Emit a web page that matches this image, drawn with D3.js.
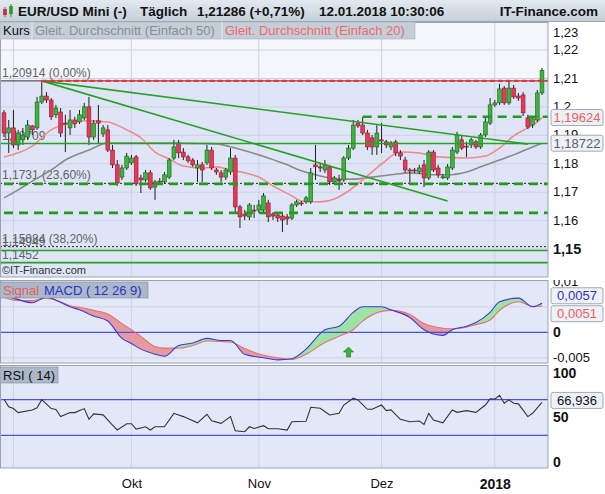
<!DOCTYPE html>
<html><head><meta charset="utf-8">
<script src="https://cdn.jsdelivr.net/npm/d3@7"></script>
<style>body{margin:0;background:#fff}svg{display:block;font-family:"Liberation Sans",Arial,sans-serif}</style>
</head><body><svg id="c" width="605" height="494"></svg>
<script>
// ---------- DATA ----------
const openV = [1.1979,1.1908,1.1926,1.1866,1.1884,1.1894,1.1933,1.1926,1.2017,1.2038,1.2024,1.1972,1.1982,1.1943,1.1926,1.1954,1.1947,1.1961,1.2000,1.1894,1.1951,1.1905,1.1919,1.1848,1.1796,1.1753,1.1785,1.1803,1.1824,1.1750,1.1743,1.1768,1.1718,1.1739,1.1736,1.1753,1.1820,1.1873,1.1841,1.1824,1.1813,1.1785,1.1796,1.1803,1.1848,1.1778,1.1768,1.1753,1.1771,1.1820,1.1648,1.1623,1.1613,1.1637,1.1637,1.1637,1.1662,1.1623,1.1620,1.1616,1.1613,1.1609,1.1655,1.1662,1.1666,1.1666,1.1796,1.1789,1.1778,1.1789,1.1736,1.1743,1.1743,1.1820,1.1855,1.1943,1.1936,1.1908,1.1891,1.1859,1.1884,1.1877,1.1859,1.1877,1.1838,1.1813,1.1778,1.1778,1.1771,1.1796,1.1750,1.1841,1.1785,1.1753,1.1750,1.1785,1.1841,1.1884,1.1862,1.1866,1.1877,1.1859,1.1901,1.1943,1.2007,1.2014,1.2066,1.2014,1.2066,1.2038,1.2042,1.1961,1.1936,1.1954,1.2049];
const highV = [1.1989,1.1954,1.1989,1.1919,1.1926,1.1954,1.1936,1.2035,1.2091,1.2052,1.2031,1.2007,1.1996,1.1972,1.1989,1.1965,1.1989,1.2014,1.2035,1.1954,1.2007,1.1936,1.1936,1.1866,1.1813,1.1796,1.1838,1.1831,1.1831,1.1761,1.1778,1.1778,1.1743,1.1750,1.1771,1.1820,1.1884,1.1884,1.1855,1.1831,1.1820,1.1813,1.1806,1.1866,1.1859,1.1785,1.1778,1.1785,1.1855,1.1831,1.1655,1.1637,1.1662,1.1655,1.1673,1.1697,1.1673,1.1630,1.1627,1.1630,1.1623,1.1662,1.1673,1.1669,1.1687,1.1785,1.1866,1.1803,1.1813,1.1796,1.1757,1.1761,1.1827,1.1866,1.1954,1.1954,1.1965,1.1919,1.1901,1.1936,1.1943,1.1884,1.1880,1.1884,1.1848,1.1824,1.1785,1.1785,1.1796,1.1813,1.1848,1.1848,1.1796,1.1764,1.1799,1.1859,1.1912,1.1901,1.1877,1.1891,1.1884,1.1908,1.1961,1.2031,1.2024,1.2081,1.2073,1.2091,1.2077,1.2049,1.2052,1.1972,1.1968,1.2059,1.2137];
const lowV = [1.1894,1.1838,1.1855,1.1848,1.1866,1.1884,1.1901,1.1919,1.2010,1.2014,1.1954,1.1961,1.1894,1.1841,1.1901,1.1926,1.1940,1.1954,1.1866,1.1884,1.1873,1.1894,1.1841,1.1785,1.1722,1.1743,1.1778,1.1796,1.1722,1.1697,1.1736,1.1708,1.1673,1.1729,1.1729,1.1746,1.1813,1.1820,1.1813,1.1803,1.1789,1.1736,1.1736,1.1796,1.1778,1.1761,1.1736,1.1743,1.1761,1.1630,1.1574,1.1602,1.1602,1.1609,1.1627,1.1630,1.1595,1.1602,1.1595,1.1560,1.1585,1.1602,1.1648,1.1652,1.1659,1.1659,1.1743,1.1771,1.1768,1.1725,1.1725,1.1708,1.1736,1.1813,1.1848,1.1926,1.1901,1.1848,1.1831,1.1831,1.1838,1.1855,1.1848,1.1827,1.1813,1.1768,1.1732,1.1768,1.1764,1.1718,1.1743,1.1771,1.1750,1.1746,1.1743,1.1778,1.1834,1.1848,1.1824,1.1855,1.1852,1.1852,1.1894,1.1936,1.2000,1.2007,1.2007,1.2007,1.2028,1.2021,1.1968,1.1922,1.1926,1.1947,1.2042];
const closeV = [1.1908,1.1926,1.1866,1.1908,1.1901,1.1936,1.1919,1.2017,1.2038,1.2024,1.1965,1.1996,1.1908,1.1940,1.1954,1.1940,1.1972,1.2000,1.1894,1.1943,1.1943,1.1926,1.1848,1.1796,1.1732,1.1785,1.1827,1.1820,1.1729,1.1743,1.1768,1.1715,1.1736,1.1736,1.1761,1.1813,1.1859,1.1838,1.1824,1.1810,1.1796,1.1796,1.1778,1.1848,1.1785,1.1771,1.1753,1.1778,1.1820,1.1648,1.1613,1.1616,1.1655,1.1634,1.1655,1.1687,1.1613,1.1616,1.1609,1.1602,1.1606,1.1655,1.1666,1.1661,1.1680,1.1768,1.1789,1.1785,1.1796,1.1736,1.1750,1.1742,1.1820,1.1855,1.1936,1.1933,1.1908,1.1859,1.1859,1.1908,1.1880,1.1866,1.1873,1.1838,1.1827,1.1778,1.1775,1.1775,1.1785,1.1750,1.1841,1.1778,1.1761,1.1754,1.1789,1.1848,1.1901,1.1855,1.1861,1.1884,1.1859,1.1901,1.1947,1.2007,1.2014,1.2063,1.2014,1.2066,1.2035,1.2031,1.1979,1.1929,1.1958,1.2049,1.21286];

const ma20Idx = [0,6,10,13,17,22,26,29,32,35,38,42,45,48,51,54,57,61,63,67,70,73,77,80,84,88,92,98,102,105,108,111,113,114];
const ma20Val = [1.1824,1.1862,1.1919,1.1940,1.1951,1.1947,1.1919,1.1891,1.1841,1.1817,1.1792,1.1785,1.1789,1.1778,1.1768,1.1753,1.1722,1.1687,1.1669,1.1666,1.1676,1.1704,1.1757,1.1799,1.1841,1.1838,1.1824,1.1820,1.1827,1.1855,1.1898,1.1926,1.1947,1.19624];
const ma50Idx = [0,3,6,10,13,18,22,29,35,42,45,49,52,56,60,63,67,71,74,78,82,86,91,94,98,101,105,109,112,114];
const ma50Val = [1.1680,1.1708,1.1739,1.1778,1.1813,1.1848,1.1873,1.1873,1.1873,1.1871,1.1870,1.1855,1.1841,1.1820,1.1796,1.1775,1.1757,1.1746,1.1746,1.1753,1.1761,1.1768,1.1761,1.1761,1.1771,1.1789,1.1813,1.1838,1.1859,1.18722];

const macdIdx = [0,2,6,9,11,14,16,19,22,25,27,29,32,34,37,40,43,46,48,51,55,58,61,64,68,71,74,76,80,82,86,89,93,95,98,100,103,105,109,112,114];
const macdVal = [0.0072,0.0067,0.0058,0.0069,0.0063,0.0050,0.0044,0.0032,0.0022,-0.0012,-0.0022,-0.0033,-0.0043,-0.0047,-0.0026,-0.0021,-0.0012,-0.0016,-0.0016,-0.0043,-0.0050,-0.0054,-0.0052,-0.0033,0.0005,0.0012,0.0039,0.0050,0.0050,0.0044,0.0029,0.0005,-0.0006,0.0005,0.0012,0.0019,0.0039,0.0060,0.0067,0.0050,0.0057];
const signalVal = [0.0069,0.0063,0.0062,0.0067,0.0063,0.0052,0.0049,0.0043,0.0036,0.0017,0.0005,-0.0008,-0.0028,-0.0031,-0.0031,-0.0026,-0.0017,-0.0018,-0.0019,-0.0032,-0.0045,-0.0050,-0.0053,-0.0043,-0.0020,-0.0008,0.0005,0.0022,0.0041,0.0043,0.0035,0.0017,0.0008,0.0007,0.0010,0.0015,0.0024,0.0043,0.0060,0.0051,0.0051];

const rsiIdx = [0,1,2,3,6,7,8,10,11,12,14,15,17,18,19,21,23,24,26,27,28,30,31,32,34,36,38,41,43,44,46,48,49,51,52,53,55,56,58,60,61,64,65,67,69,71,72,74,75,77,78,80,81,82,84,86,88,89,90,91,93,95,96,98,100,102,103,104,105,106,107,108,109,111,112,114];
const rsiVal = [70.6,62,60,55.5,58.5,61,70,60,59,51,55.5,55.5,60,48,54,53,41.5,36,43,43,37,39.6,36,39.6,39.6,54.7,51,44,53.6,46.4,43.4,51,35,34,39.6,37.7,40.8,37.4,37.4,35.8,45.3,45.7,61.5,60.4,52.8,54.7,64,71.7,69.8,59.2,59.2,64,57.7,58.5,48,45.3,46,42.3,54.7,47.2,44,58.5,55.8,57.7,55.8,64,71,70.6,75,66,69.8,66,65.3,51,54.7,66.936];

const mainTicks = [1.15,1.16,1.17,1.18,1.19,1.20,1.21,1.22,1.23];
const mainTickLabels = ["1,15","1,16","1,17","1,18","1,19","1,2","1,21","1,22","1,23"];
const macdTicks = [0.01,0,-0.005];
const macdTickLabels = ["0,01","0","-0,005"];
const rsiTicks = [100,50,0];
const rsiTickLabels = ["100","50","0"];
const monthLabels = ["","Okt","Nov","Dez","2018"];

const fibLevels = [1.20914,1.1731,1.15084];
const fibLabels = ["1,20914 (0,00%)","1,1731 (23,60%)","1,15084 (38,20%)"];
const greenLevels = [1.18709,1.14949,1.1452];
const greenLabels = ["1,18709","1,14949","1,1452"];
const dashedLevels = [1.1965,1.1729,1.1627];
const dashedStartIdx = [76,0,0];
const resistanceStartIdx = 8;
const trendLines = [[8,1.20914,111,1.1869],[8,1.20914,94,1.1669]];
const signalArrowIdx = 73;
const lastMa20 = 1.19624, lastMa50 = 1.18722, lastMacd = 0.0057, lastSignal = 0.0051, lastRsi = 66.936;

// trading calendar (Sun–Fri, holidays removed)
const dates = d3.timeDay.range(new Date(2017,7,30), new Date(2018,0,13))
  .filter(d => d.getDay()!==6 && !(d.getMonth()===11 && (d.getDate()===24||d.getDate()===25)));

// ---------- LAYOUT ----------
const svg = d3.select("#c");
const PR = 548;
const n = closeV.length;
const x = d3.scaleLinear().domain([0,n-1]).range([4,542]);
const yM = d3.scaleLinear().domain([1.14016,1.22985]).range([277,22]);
const yMacd = d3.scaleLinear().domain([-0.00602,0.01025]).range([363,280]);
const yRsi = d3.scaleLinear().domain([-6.74,108.99]).range([468,365]);
const monthIdx = dates.map((d,i)=>i).filter(i=>i>0 && dates[i].getMonth()!==dates[i-1].getMonth());

const defs = svg.append("defs");
function clip(id,x0,y0,w,h){defs.append("clipPath").attr("id",id).append("rect").attr("x",x0).attr("y",y0).attr("width",w).attr("height",h);}
clip("cm",0,22,PR,255); clip("cmacd",0,280,PR,83); clip("crsi",0,365,PR,103); clip("cmacdax",PR,280,60,83);
const hg = defs.append("linearGradient").attr("id","hg").attr("x1",0).attr("x2",0).attr("y1",0).attr("y2",1);
hg.append("stop").attr("offset",0).attr("stop-color","#e3e9ef");
hg.append("stop").attr("offset",1).attr("stop-color","#c4cfd9");

// ---------- MAIN PANEL ----------
const gm = svg.append("g").attr("clip-path","url(#cm)");
gm.append("rect").attr("x",0).attr("y",22).attr("width",PR).attr("height",255).attr("fill","#dfe5f7");
gm.append("rect").attr("x",0).attr("y",22).attr("width",PR).attr("height",yM(fibLevels[0])-22).attr("fill","#f4f6fb");
gm.selectAll("line.hg").data(mainTicks).join("line").attr("x1",0).attr("x2",PR)
  .attr("y1",d=>yM(d)).attr("y2",d=>yM(d)).attr("stroke","#cdd3e2").attr("stroke-width",1);
gm.selectAll("line.vg").data(monthIdx).join("line").attr("x1",d=>x(d)).attr("x2",d=>x(d))
  .attr("y1",22).attr("y2",277).attr("stroke","#cdd3e2");

// left labels (behind candles)
const lab = gm.append("g").attr("font-size",12).attr("fill","#5f6368");
lab.selectAll("text.f").data(fibLevels).join("text").attr("x",2).attr("y",d=>yM(d)-4).text((d,i)=>fibLabels[i]);
lab.selectAll("text.g").data(greenLevels).join("text").attr("x",2).attr("y",d=>yM(d)-4).text((d,i)=>greenLabels[i]);
gm.append("text").attr("x",2).attr("y",274).attr("font-size",11).attr("fill","#333").text("©IT-Finance.com");

// fib lines
gm.append("line").attr("x1",0).attr("x2",PR).attr("y1",yM(fibLevels[0])).attr("y2",yM(fibLevels[0])).attr("stroke","#333").attr("stroke-width",1);
gm.selectAll("line.fd").data(fibLevels.slice(1)).join("line").attr("x1",0).attr("x2",PR)
  .attr("y1",d=>yM(d)).attr("y2",d=>yM(d)).attr("stroke","#222").attr("stroke-dasharray","2,2");

// moving averages
const line = (idx,val,ys)=>d3.line().x((d,i)=>x(idx[i])).y(d=>ys(d)).curve(d3.curveMonotoneX)(val);
gm.append("path").attr("d",line(ma50Idx,ma50Val,yM)).attr("fill","none").attr("stroke","#8a8a8a").attr("stroke-width",1.6);
gm.append("path").attr("d",line(ma20Idx,ma20Val,yM)).attr("fill","none").attr("stroke","#ef8a8a").attr("stroke-width",1.6);

// candles
const idx = d3.range(n);
const cg = gm.append("g");
cg.selectAll("line.w").data(idx).join("line").attr("x1",i=>x(i)).attr("x2",i=>x(i))
  .attr("y1",i=>yM(highV[i])).attr("y2",i=>yM(lowV[i])).attr("stroke","#1e1e1e").attr("stroke-width",1);
cg.selectAll("rect.b").data(idx).join("rect")
  .attr("x",i=>x(i)-1.9).attr("width",3.8)
  .attr("y",i=>yM(Math.max(openV[i],closeV[i])))
  .attr("height",i=>Math.max(1,Math.abs(yM(openV[i])-yM(closeV[i]))))
  .attr("fill",i=>closeV[i]>=openV[i]?"#3db53d":"#e8385a")
  .attr("stroke",i=>closeV[i]>=openV[i]?"#1f5f1f":"#8c1a30").attr("stroke-width",0.6);

// horizontal green lines
gm.selectAll("line.gl").data(greenLevels).join("line").attr("x1",0).attr("x2",PR)
  .attr("y1",d=>yM(d)).attr("y2",d=>yM(d)).attr("stroke","#25a025").attr("stroke-width",1.6);
gm.selectAll("line.dl").data(dashedLevels).join("line").attr("x1",(d,i)=>x(dashedStartIdx[i])).attr("x2",PR)
  .attr("y1",d=>yM(d)).attr("y2",d=>yM(d)).attr("stroke","#229a22").attr("stroke-width",2.6).attr("stroke-dasharray","9,6");
gm.selectAll("line.tl").data(trendLines).join("line")
  .attr("x1",d=>x(d[0])).attr("y1",d=>yM(d[1])).attr("x2",d=>x(d[2])).attr("y2",d=>yM(d[3]))
  .attr("stroke","#25a025").attr("stroke-width",1.6);
gm.append("line").attr("x1",x(resistanceStartIdx)).attr("x2",PR).attr("y1",yM(fibLevels[0])).attr("y2",yM(fibLevels[0]))
  .attr("stroke","#ff2a2a").attr("stroke-width",2.4).attr("stroke-dasharray","5,3");

// ---------- MACD PANEL ----------
const gq = svg.append("g").attr("clip-path","url(#cmacd)");
gq.append("rect").attr("x",0).attr("y",280).attr("width",PR).attr("height",83).attr("fill","#e3e8f9");
gq.selectAll("line.hg").data([0.005,-0.005]).join("line").attr("x1",0).attr("x2",PR)
  .attr("y1",d=>yMacd(d)).attr("y2",d=>yMacd(d)).attr("stroke","#cdd3e2");
gq.selectAll("line.vg").data(monthIdx).join("line").attr("x1",d=>x(d)).attr("x2",d=>x(d)).attr("y1",280).attr("y2",363).attr("stroke","#cdd3e2");
const cur = d3.curveMonotoneX;
defs.append("clipPath").attr("id","belowMacd").append("path")
  .attr("d",d3.area().x((d,i)=>x(macdIdx[i])).y0(400).y1(d=>yMacd(d)).curve(cur)(macdVal));
defs.append("clipPath").attr("id","aboveMacd").append("path")
  .attr("d",d3.area().x((d,i)=>x(macdIdx[i])).y0(250).y1(d=>yMacd(d)).curve(cur)(macdVal));
gq.append("g").attr("clip-path","url(#belowMacd)").append("path")
  .attr("d",d3.area().x((d,i)=>x(macdIdx[i])).y0(250).y1(d=>yMacd(d)).curve(cur)(signalVal)).attr("fill","#9fe2a6");
gq.append("g").attr("clip-path","url(#aboveMacd)").append("path")
  .attr("d",d3.area().x((d,i)=>x(macdIdx[i])).y0(400).y1(d=>yMacd(d)).curve(cur)(signalVal)).attr("fill","#e59aa2");
gq.append("line").attr("x1",0).attr("x2",PR).attr("y1",yMacd(0)).attr("y2",yMacd(0)).attr("stroke","#4a50e0").attr("stroke-width",1.2);
gq.append("path").attr("d",line(macdIdx,signalVal,yMacd)).attr("fill","none").attr("stroke","#e87070").attr("stroke-width",1.1);
gq.append("path").attr("d",line(macdIdx,macdVal,yMacd)).attr("fill","none").attr("stroke","#3a3ad8").attr("stroke-width",1.1);
{
  const ax = x(signalArrowIdx), ay = 347;
  gq.append("path").attr("d",`M${ax},${ay} L${ax+5},${ay+5} L${ax+2},${ay+5} L${ax+2},${ay+10} L${ax-2},${ay+10} L${ax-2},${ay+5} L${ax-5},${ay+5} Z`)
    .attr("fill","#35b935").attr("stroke","#1d6e1d").attr("stroke-width",0.6);
}

// ---------- RSI PANEL ----------
const gr = svg.append("g").attr("clip-path","url(#crsi)");
gr.append("rect").attr("x",0).attr("y",365).attr("width",PR).attr("height",103).attr("fill","#e3e8f9");
gr.selectAll("line.vg").data(monthIdx).join("line").attr("x1",d=>x(d)).attr("x2",d=>x(d)).attr("y1",365).attr("y2",468).attr("stroke","#cdd3e2");
gr.selectAll("line.lv").data([70,30]).join("line").attr("x1",0).attr("x2",PR)
  .attr("y1",d=>yRsi(d)).attr("y2",d=>yRsi(d)).attr("stroke","#4a50e0").attr("stroke-width",1.2);
gr.append("path").attr("d",d3.line().x((d,i)=>x(rsiIdx[i])).y(d=>yRsi(d))(rsiVal)).attr("fill","none").attr("stroke","#333").attr("stroke-width",1.1);

// ---------- BORDERS ----------
const bord = svg.append("g").attr("fill","none").attr("stroke","#9aa3b5");
bord.append("rect").attr("x",0.5).attr("y",22.5).attr("width",PR-0.5).attr("height",254.5);
bord.append("rect").attr("x",0.5).attr("y",280.5).attr("width",PR-0.5).attr("height",82.5);
bord.append("rect").attr("x",0.5).attr("y",365.5).attr("width",PR-0.5).attr("height",102.5);

// ---------- HEADER ----------
svg.append("rect").attr("x",0).attr("y",0).attr("width",605).attr("height",22).attr("fill","url(#hg)");
svg.append("line").attr("x1",0).attr("x2",605).attr("y1",21.5).attr("y2",21.5).attr("stroke","#9aa8b4");
svg.append("rect").attr("x",3).attr("y",9).attr("width",4).attr("height",6).attr("fill","#e8385a");
svg.append("line").attr("x1",5).attr("x2",5).attr("y1",7).attr("y2",17).attr("stroke","#8c1a30").attr("stroke-width",0.8);
svg.append("rect").attr("x",9).attr("y",6).attr("width",4).attr("height",8).attr("fill","#3db53d");
svg.append("line").attr("x1",11).attr("x2",11).attr("y1",4).attr("y2",17).attr("stroke","#1f5f1f").attr("stroke-width",0.8);
const ht = svg.append("g").attr("font-weight","bold").attr("font-size",13.5).attr("fill","#111");
ht.append("text").attr("x",18).attr("y",16).text("EUR/USD Mini (-)");
ht.append("text").attr("x",140).attr("y",16).text("Täglich");
ht.append("text").attr("x",197).attr("y",16).text("1,21286 (+0,71%)");
ht.append("text").attr("x",319).attr("y",16).text("12.01.2018 10:30:06");
ht.append("text").attr("x",598).attr("y",16).attr("text-anchor","end").text("IT-Finance.com");

// legend row
svg.append("rect").attr("x",0).attr("y",22).attr("width",415).attr("height",17).attr("fill","#c3ced8").attr("stroke","#a5b2be").attr("stroke-width",0.6);
svg.selectAll("line.ls").data([32,222]).join("line").attr("x1",d=>d).attr("x2",d=>d).attr("y1",22).attr("y2",39).attr("stroke","#e6ebf0");
const lg = svg.append("g").attr("font-size",13);
lg.append("text").attr("x",3).attr("y",35).attr("fill","#111").text("Kurs");
lg.append("text").attr("x",35).attr("y",35).attr("fill","#8b8e93").text("Gleit. Durchschnitt (Einfach 50)");
lg.append("text").attr("x",225).attr("y",35).attr("fill","#f06a6a").text("Gleit. Durchschnitt (Einfach 20)");

// MACD & RSI legends
svg.append("rect").attr("x",0).attr("y",282).attr("width",148).attr("height",16).attr("fill","#aab8c8").attr("stroke","#7f8c9c").attr("stroke-width",0.6);
svg.append("text").attr("x",3).attr("y",295).attr("font-size",13).attr("fill","#e65e5e").text("Signal");
svg.append("text").attr("x",44).attr("y",295).attr("font-size",13).attr("fill","#2f2fd0").text("MACD ( 12 26 9)");
svg.append("rect").attr("x",0).attr("y",367).attr("width",58).attr("height",16).attr("fill","#aab8c8").attr("stroke","#7f8c9c").attr("stroke-width",0.6);
svg.append("text").attr("x",3).attr("y",380).attr("font-size",13).attr("fill","#111").text("RSI ( 14)");

// ---------- AXES ----------
function styleAxis(g){ g.select(".domain").remove(); g.attr("font-family",null).attr("font-size",13); g.selectAll("text").attr("fill","#111"); }
const gA = svg.append("g").attr("transform",`translate(${PR},0)`)
  .call(d3.axisRight(yM).tickValues(mainTicks).tickFormat((d,i)=>mainTickLabels[i]).tickSize(0).tickPadding(5));
styleAxis(gA);
gA.selectAll(".tick").attr("transform",d=>`translate(0,${Math.max(33,yM(d))})`);
gA.selectAll("text").filter(d=>d===1.15).attr("font-weight","bold").attr("font-size",14.5);

const gQ = svg.append("g").attr("clip-path","url(#cmacdax)").append("g").attr("transform",`translate(${PR},0)`)
  .call(d3.axisRight(yMacd).tickValues(macdTicks).tickFormat((d,i)=>macdTickLabels[i]).tickSize(0).tickPadding(5));
styleAxis(gQ);
gQ.selectAll("text").filter(d=>d===0).attr("font-weight","bold").attr("font-size",14);

const gR = svg.append("g").attr("transform",`translate(${PR},0)`)
  .call(d3.axisRight(yRsi).tickValues(rsiTicks).tickFormat((d,i)=>rsiTickLabels[i]).tickSize(0).tickPadding(5));
styleAxis(gR);
gR.selectAll("text").attr("font-weight","bold").attr("font-size",14);

const gX = svg.append("g").attr("transform","translate(0,468)")
  .call(d3.axisBottom(x).tickValues(monthIdx).tickFormat((d,i)=>monthLabels[i]).tickSize(0).tickPadding(11));
styleAxis(gX);
gX.selectAll("text").filter((d,i)=>monthLabels[i]==="2018").attr("font-weight","bold").attr("font-size",14);

// value boxes
function vbox(cy,txt,col){
  const g = svg.append("g");
  g.append("rect").attr("x",551).attr("y",cy-8).attr("width",52).attr("height",16).attr("rx",2)
    .attr("fill","#eef1f5").attr("stroke","#8d97a8").attr("stroke-width",0.8);
  g.append("text").attr("x",577).attr("y",cy+4.5).attr("text-anchor","middle").attr("font-size",13).attr("fill",col).text(txt);
}
const fmt = (v,d)=>v.toFixed(d).replace(".",",");
vbox(yM(lastMa20),fmt(lastMa20,5),"#e86060");
vbox(yM(lastMa50),fmt(lastMa50,5),"#5a5e66");
{
  let c1 = yMacd(lastMacd), c2 = yMacd(lastSignal);
  if (Math.abs(c2-c1) < 18){ const m=(c1+c2)/2; c1=m-9; c2=m+9; }
  vbox(c1,fmt(lastMacd,4),"#2f2fd0");
  vbox(c2,fmt(lastSignal,4),"#e86060");
}
vbox(yRsi(lastRsi)-2,fmt(lastRsi,3),"#111");
</script></body></html>
